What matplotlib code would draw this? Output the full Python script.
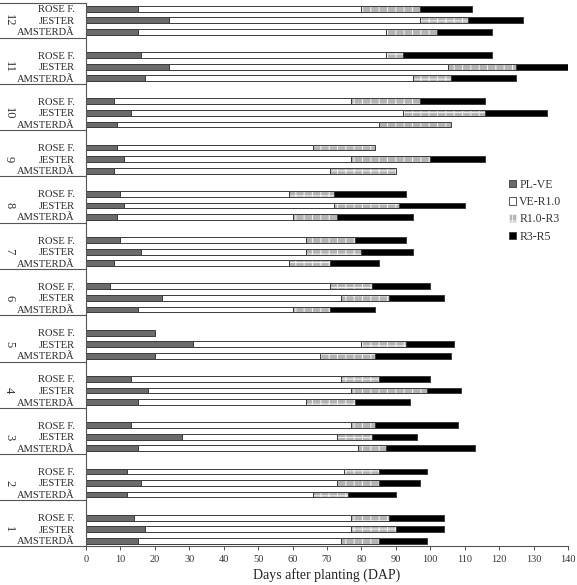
import numpy as np
import matplotlib
matplotlib.use("Agg")
import matplotlib.pyplot as plt
from matplotlib.lines import Line2D
from matplotlib.patches import Patch
from matplotlib.transforms import blended_transform_factory

plt.rcParams['font.family'] = ['Liberation Serif', 'DejaVu Serif']
plt.rcParams['hatch.linewidth'] = 0.8

groups = list(range(1, 13))
varieties = ['AMSTERDÃ', 'JESTER', 'ROSE F.']
phases = ['PL-VE', 'VE-R1.0', 'R1.0-R3', 'R3-R5']

# cumulative end day (DAP) of each phase, groups 1..12
rose_pl = [14, 12, 13, 13, 20, 7, 10, 10, 9, 8, 16, 15]
rose_r1 = [77, 75, 77, 74, 20, 71, 64, 59, 66, 77, 87, 80]
rose_r3 = [88, 85, 84, 85, 20, 83, 78, 72, 84, 97, 92, 97]
rose_r5 = [104, 99, 108, 100, 20, 100, 93, 93, 84, 116, 118, 112]

jester_pl = [17, 16, 28, 18, 31, 22, 16, 11, 11, 13, 24, 24]
jester_r1 = [77, 73, 73, 77, 80, 74, 64, 72, 77, 92, 105, 97]
jester_r3 = [90, 85, 83, 99, 93, 88, 80, 91, 100, 116, 125, 111]
jester_r5 = [104, 97, 96, 109, 107, 104, 95, 110, 116, 134, 140, 127]

amst_pl = [15, 12, 15, 15, 20, 15, 8, 9, 8, 9, 17, 15]
amst_r1 = [74, 66, 79, 64, 68, 60, 59, 60, 71, 85, 95, 87]
amst_r3 = [85, 76, 87, 78, 84, 71, 71, 73, 90, 106, 106, 102]
amst_r5 = [99, 90, 113, 94, 106, 84, 85, 95, 90, 106, 125, 118]

ends = {
    'AMSTERDÃ': [amst_pl, amst_r1, amst_r3, amst_r5],
    'JESTER': [jester_pl, jester_r1, jester_r3, jester_r5],
    'ROSE F.': [rose_pl, rose_r1, rose_r3, rose_r5],
}

face = ['#6b6b6b', 'white', '#b4b4b4', 'black']
edge = '#3a3a3a'

fig = plt.figure(figsize=(5.77, 5.85), dpi=100)
ax = fig.add_axes([86 / 577, 39 / 585, 482 / 577, 543 / 585])

ypos, ylabels = [], []
for gi, g in enumerate(groups):
    base = gi * 4
    for vi, v in enumerate(varieties):
        y = base + vi
        ypos.append(y)
        ylabels.append(v)
        left = 0
        for pi in range(4):
            right = ends[v][pi][gi]
            w = right - left
            if w > 0:
                if pi == 2:
                    ax.barh(y, w, left=left, height=0.5, color=face[pi],
                            edgecolor='#eeeeee', hatch='++', linewidth=0)
                    ax.barh(y, w, left=left, height=0.5, fill=False,
                            edgecolor=edge, linewidth=0.7)
                else:
                    ax.barh(y, w, left=left, height=0.5, color=face[pi],
                            edgecolor=edge, linewidth=0.7)
            left = right

ax.set_xlim(0, 140)
ax.set_ylim(-0.45, 46.5)
ax.set_xticks(np.arange(0, 141, 10))
ax.set_yticks(ypos)
ax.set_yticklabels(ylabels, fontsize=7.6, color='#2a2a2a')
ax.tick_params(axis='x', labelsize=7.5, colors='#333333', length=3, width=0.6)
ax.tick_params(axis='y', length=0, pad=8)
ax.set_xlabel('Days after planting (DAP)', fontsize=10, color='#222222', labelpad=3)
for s in ['top', 'right']:
    ax.spines[s].set_visible(False)
for s in ['left', 'bottom']:
    ax.spines[s].set_color('#555555')
    ax.spines[s].set_linewidth(0.8)

# group separators and group labels in the left box
tr = blended_transform_factory(fig.transFigure, ax.transData)
x_ax = 86 / 577
for gi, g in enumerate(groups):
    base = gi * 4
    if gi > 0:
        fig.add_artist(Line2D([0, x_ax], [base - 0.5, base - 0.5], transform=tr,
                              color='#555555', lw=0.8))
    ax.text(9 / 577, base + 1, str(g), transform=tr, rotation=270,
            ha='center', va='center', fontsize=9, color='#333333')
fig.add_artist(Line2D([0, x_ax], [-0.45, -0.45], transform=tr, color='#555555', lw=0.8))
fig.add_artist(Line2D([0, x_ax], [46.5, 46.5], transform=tr, color='#555555', lw=0.8))

handles = [
    Patch(facecolor=face[0], edgecolor=edge, linewidth=0.6),
    Patch(facecolor='white', edgecolor=edge, linewidth=0.6),
    Patch(facecolor=face[2], edgecolor='#eeeeee', hatch='++', linewidth=0.6),
    Patch(facecolor='black', edgecolor=edge, linewidth=0.6),
]
fig.legend(handles, phases, loc='upper left', bbox_to_anchor=(498 / 577, 1 - 168 / 585),
           frameon=False, fontsize=8.5, handlelength=0.6, handleheight=0.6,
           handletextpad=0.3, labelspacing=0.45, labelcolor='#333333')

fig.savefig('out.png', dpi=100)
